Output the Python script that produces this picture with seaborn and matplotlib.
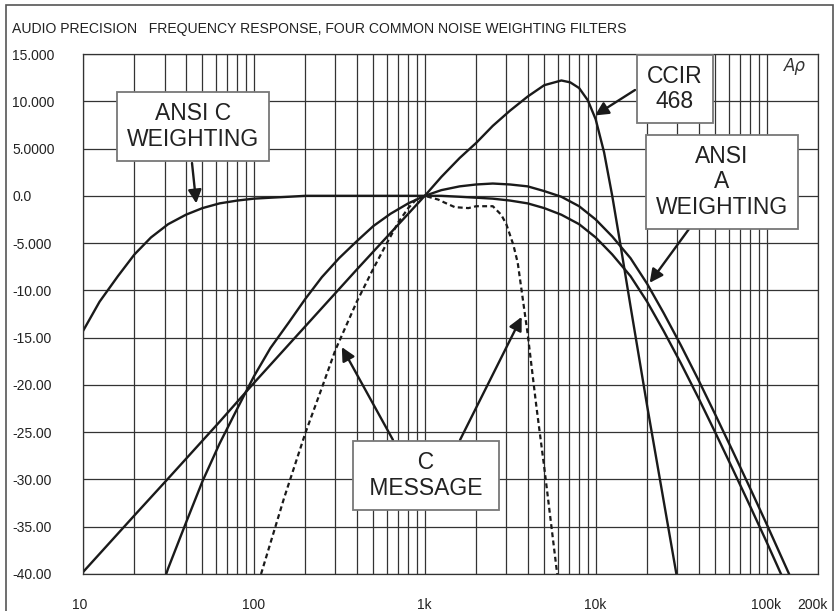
import matplotlib
matplotlib.use("Agg")
import matplotlib.pyplot as plt
import matplotlib.transforms as mtransforms
import seaborn as sns
from matplotlib.patches import Rectangle
from matplotlib.ticker import LogLocator, NullFormatter

# frequency response values (Hz, dB)
ansi_c_freq = [10, 12.5, 16, 20, 25, 31.5, 40, 50, 63, 80,
               100, 125, 160, 200, 250, 315, 400, 500, 630, 800,
               1000, 1250, 1600, 2000, 2500, 3150, 4000, 5000, 6300, 8000,
               10000, 12500, 16000, 20000, 25000, 31500, 40000, 50000, 63000, 80000,
               100000, 125000, 160000]
ansi_c_db = [-14.3, -11.2, -8.5, -6.2, -4.4, -3.0, -2.0, -1.3, -0.8, -0.5,
             -0.3, -0.2, -0.1, 0.0, 0.0, 0.0, 0.0, 0.0, 0.0, 0.0,
             0.0, 0.0, -0.1, -0.2, -0.3, -0.5, -0.8, -1.3, -2.0, -3.0,
             -4.4, -6.2, -8.5, -11.2, -14.3, -17.7, -21.4, -25.0, -28.8, -32.8,
             -36.6, -40.5, -44.8]

ansi_a_freq = ansi_c_freq
ansi_a_db = [-70.4, -63.4, -56.7, -50.5, -44.7, -39.4, -34.6, -30.2, -26.2, -22.5,
             -19.1, -16.1, -13.4, -10.9, -8.6, -6.6, -4.8, -3.2, -1.9, -0.8,
             0.0, 0.6, 1.0, 1.2, 1.3, 1.2, 1.0, 0.5, -0.1, -1.1,
             -2.5, -4.3, -6.6, -9.3, -12.4, -15.8, -19.5, -23.1, -26.9, -30.9,
             -34.7, -38.6, -42.9]

ccir_freq = [10, 20, 31.5, 63, 100, 200, 400, 800, 1000, 1250, 1600, 2000, 2500,
             3150, 4000, 5000, 6300, 7100, 8000, 9000, 10000, 11200, 12500,
             14000, 16000, 20000, 31500]
ccir_db = [-39.8, -33.8, -29.9, -23.9, -19.8, -13.8, -7.8, -1.9, 0.0, 2.0, 4.0, 5.6, 7.4,
           9.0, 10.5, 11.7, 12.2, 12.0, 11.4, 10.1, 8.1, 4.6, 0.0,
           -5.3, -11.7, -22.2, -42.7]

cmsg_freq = [100, 150, 200, 250, 300, 400, 500, 600, 700, 800, 900, 1000, 1200,
             1300, 1500, 1800, 2000, 2500, 2800, 3000, 3300, 3500, 4000, 4500,
             5000, 6000]
cmsg_db = [-42.5, -32.0, -25.1, -20.3, -16.3, -11.2, -7.7, -5.0, -2.8, -1.3, -0.3, 0.0, -0.4,
           -0.7, -1.2, -1.3, -1.1, -1.1, -2.0, -3.0, -5.2, -7.1, -14.6, -22.3,
           -28.7, -40.5]

y_ticks = [15, 10, 5, 0, -5, -10, -15, -20, -25, -30, -35, -40]
y_labels = ["15.000", "10.000", "5.0000", "0.0", "-5.000", "-10.00", "-15.00",
            "-20.00", "-25.00", "-30.00", "-35.00", "-40.00"]
x_ticks = [10, 100, 1000, 10000, 100000, 200000]
x_labels = ["10", "100", "1k", "10k", "100k", "200k"]

sns.set_style("white")
plt.rcParams["font.family"] = ["Liberation Sans", "DejaVu Sans"]

W, H = 838, 611
fig = plt.figure(figsize=(W / 100, H / 100), dpi=100)
ax = fig.add_axes([83 / W, 1 - 574 / H, (818 - 83) / W, (574 - 54) / H])

ink = "#1a1a1a"
grid_c = "#333333"

sns.lineplot(x=ansi_c_freq, y=ansi_c_db, ax=ax, color=ink, linewidth=1.7, errorbar=None)
sns.lineplot(x=ansi_a_freq, y=ansi_a_db, ax=ax, color=ink, linewidth=1.7, errorbar=None)
sns.lineplot(x=ccir_freq, y=ccir_db, ax=ax, color=ink, linewidth=1.7, errorbar=None)
sns.lineplot(x=cmsg_freq, y=cmsg_db, ax=ax, color=ink, linewidth=1.6, errorbar=None,
             linestyle=(0, (2.2, 1.5)))

ax.set_xscale("log")
ax.set_xlim(10, 200000)
ax.set_ylim(-40, 15)
ax.set_xticks(x_ticks)
ax.set_xticklabels(x_labels)
ax.xaxis.set_minor_locator(LogLocator(base=10, subs=range(2, 10)))
ax.xaxis.set_minor_formatter(NullFormatter())
ax.set_yticks(y_ticks)
ax.set_yticklabels(y_labels)
ax.set_xlabel("")
ax.set_ylabel("")

ax.set_axisbelow(True)
ax.grid(which="both", axis="x", color=grid_c, linewidth=0.9)
ax.grid(which="major", axis="y", color=grid_c, linewidth=0.9)
for sp in ax.spines.values():
    sp.set_color(grid_c)
    sp.set_linewidth(0.9)

ax.tick_params(which="both", length=0)
ax.tick_params(axis="x", pad=17, labelsize=10, labelcolor="#222222")
ax.tick_params(axis="y", pad=51, labelsize=10, labelcolor="#222222")
for lab in ax.get_yticklabels():
    lab.set_horizontalalignment("left")
# nudge end labels a little inwards, as in the reference
xlabs = ax.get_xticklabels()
xlabs[0].set_transform(xlabs[0].get_transform() + mtransforms.Affine2D().translate(-3, 0))
xlabs[-1].set_transform(xlabs[-1].get_transform() + mtransforms.Affine2D().translate(-6, 0))

# outer frame and header
fig.add_artist(Rectangle((6 / W, -0.01), (833 - 6) / W, 1 - 5 / H + 0.01,
                         transform=fig.transFigure, fill=False,
                         edgecolor="#555555", linewidth=1.2))
fig.text(12 / W, 1 - 29.5 / H,
         "AUDIO PRECISION   FREQUENCY RESPONSE, FOUR COMMON NOISE WEIGHTING FILTERS",
         fontsize=10.1, color="#222222", ha="left", va="center")
fig.text(795 / W, 1 - 66 / H, "A\u03c1", fontsize=12, style="italic",
         color="#333333", ha="center", va="center", family="DejaVu Sans")

# callout boxes
box = dict(boxstyle="square,pad=0.45", facecolor="white", edgecolor="#777777", linewidth=1.3)
callouts = [
    ("ANSI C\nWEIGHTING", 193, 126.5),
    ("CCIR\n468", 675, 89),
    ("ANSI\nA\nWEIGHTING", 722, 182),
    ("  C  \n MESSAGE ", 426, 475.5),
]
for txt, px, py in callouts:
    fig.text(px / W, 1 - py / H, txt, fontsize=16.5, linespacing=1.12,
             ha="center", va="center", color="#222222", bbox=box)

# arrows: (target freq, target dB, tail x px, tail y px)
arrows = [
    (46, -0.8, 192, 163),
    (9900, 8.5, 635, 90),
    (20700, -9.2, 689, 229),
    (327, -16.0, 393, 440),
    (3690, -12.8, 460, 440),
]
for f, db, tx, ty in arrows:
    ax.annotate("", xy=(f, db), xycoords="data",
                xytext=(tx, H - ty), textcoords="figure pixels",
                arrowprops=dict(arrowstyle="-|>", color=ink, lw=1.7,
                                mutation_scale=20, shrinkA=0, shrinkB=0))

fig.savefig("out.png", dpi=100)
